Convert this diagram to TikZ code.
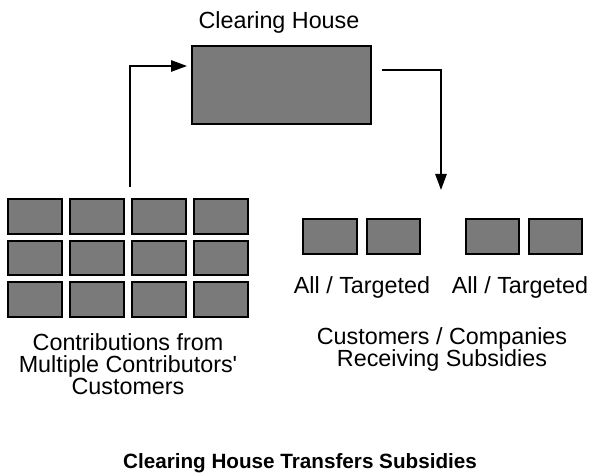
\documentclass[tikz,border=0pt]{standalone}
\usepackage{fontspec}
\setmainfont{Liberation Sans}
\usetikzlibrary{arrows.meta}
\tikzset{
  cellbox/.style={draw=black, line width=1.6pt, fill=black!52, minimum width=40pt, minimum height=26pt, inner sep=0pt},
  flow/.style={line width=1.3pt, -{Triangle[length=12pt,width=8.5pt]}},
  txt/.style={inner sep=0pt, align=center, font=\fontsize{17.5}{16.5}\selectfont},
}
\begin{document}
\begin{tikzpicture}[x=0.75pt,y=0.75pt,yscale=-1]
  \useasboundingbox (0,0) rectangle (593,473);

  % Text Node
  \node[txt] (housetitle) at (279,22) {Clearing House};
  %Shape: Rectangle
  \node[cellbox, minimum width=134pt, minimum height=58pt] (house) at (281.5,85) {};

  %Shape: Grid of contributors
  \foreach \r in {1,2,3}{
    \foreach \c in {1,2,3,4}{
      \node[cellbox] (c-\r-\c) at ({35+62*(\c-1)},{216.5+41.5*(\r-1)}) {};
    }
  }
  % Text Node
  \node[txt] (contrib) at (128,364) {Contributions from\\Multiple Contributors\textquotesingle\\Customers};

  %Shape: Receiving boxes
  \node[cellbox] (r-1) at (330,236.5) {};
  \node[cellbox] (r-2) at (393.5,236.5) {};
  \node[cellbox] (r-3) at (492.5,236.5) {};
  \node[cellbox] (r-4) at (555.5,236.5) {};
  % Text Node
  \node[txt] (lbl-a) at (362,287) {All / Targeted};
  \node[txt] (lbl-b) at (520,287) {All / Targeted};
  \node[txt] (recv) at (442,349) {Customers / Companies\\Receiving Subsidies};

  % Text Node
  \node[inner sep=0pt, font=\fontsize{15.5}{16}\selectfont\bfseries] (caption) at (300,463) {Clearing House Transfers Subsidies};

  %Straight Lines
  \coordinate (gridtop) at (130,187);
  \coordinate (hin) at (187,66);
  \coordinate (hout) at (382,70);
  \coordinate (recvtop) at (441,190);
  \draw[flow] (gridtop) |- (hin);
  \draw[flow] (hout) -| (recvtop);
\end{tikzpicture}
\end{document}
